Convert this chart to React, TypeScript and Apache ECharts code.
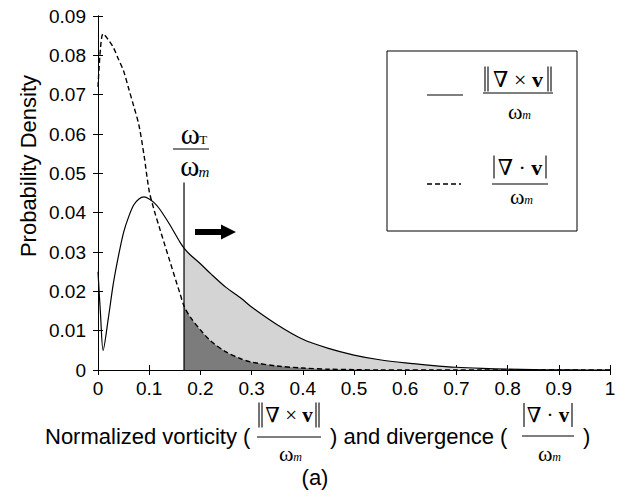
import React, { useEffect, useRef } from "react";
import * as echarts from "echarts";

// x positions (normalized value)
const xs = [0, 0.005, 0.01, 0.02, 0.03, 0.04, 0.05, 0.06, 0.07, 0.08, 0.09, 0.1, 0.11, 0.12, 0.14, 0.16, 0.168, 0.18, 0.2, 0.22, 0.25, 0.28, 0.3, 0.35, 0.4, 0.45, 0.5, 0.55, 0.6, 0.65, 0.7, 0.75, 0.8, 0.85, 0.9, 0.95, 1.0];
// solid curve: normalized vorticity
const vorticity = [0.025, 0.014, 0.005, 0.013, 0.022, 0.029, 0.035, 0.039, 0.042, 0.0435, 0.044, 0.0435, 0.0425, 0.041, 0.037, 0.0325, 0.031, 0.0293, 0.027, 0.0245, 0.021, 0.0182, 0.016, 0.0115, 0.0078, 0.0055, 0.0038, 0.0026, 0.0018, 0.0012, 0.0007, 0.0004, 0.0002, 0.0001, 0.00003, 0, 0];
// dashed curve: normalized divergence
const divergence = [0.072, 0.082, 0.0855, 0.084, 0.082, 0.079, 0.076, 0.0715, 0.067, 0.0622, 0.0545, 0.0455, 0.0405, 0.0362, 0.0278, 0.0195, 0.0163, 0.0135, 0.0102, 0.0074, 0.0046, 0.0028, 0.002, 0.001, 0.0005, 0.0002, 0.0001, 0, 0, 0, 0, 0, 0, 0, 0, 0, 0];
const threshold = 0.168;
const thresholdTop = 0.0477;

const SANS = "Liberation Sans, Arial, Helvetica, sans-serif";
const SERIF = "Liberation Serif, DejaVu Serif, Times New Roman, serif";

function txt(x: number, y: number, text: string, size: number, family: string, align: string, extra: any = {}): any {
  return {
    type: "text", x, y, z: 11,
    style: { text, fontSize: size, fontFamily: family, fill: "#000", align, verticalAlign: "middle", lineHeight: Math.round(size * 0.8), ...extra },
  };
}

// ω with a subscript; (cx, cy) is the centre of the whole group
function omegaSub(cx: number, cy: number, size: number, sub: string, italic: boolean, subSize: number): any[] {
  const wW = size * 0.6;
  const subW = subSize * 0.55;
  const left = cx - (wW + subW) / 2;
  return [
    txt(left, cy, "ω", size, SERIF, "left", { lineHeight: Math.round(size * 0.55) }),
    txt(left + wW + 1, cy + size * 0.2, sub, subSize, SERIF, "left", { fontStyle: italic ? "italic" : "normal", lineHeight: Math.round(subSize * 0.75) }),
  ];
}

function vbar(x: number, y1: number, y2: number): any {
  return { type: "line", z: 11, shape: { x1: x, y1, x2: x, y2 }, style: { stroke: "#000", lineWidth: 1.1 } };
}

function fraction(cx: number, yNum: number, yBar: number, yDen: number, op: string, halfW: number, numH: number, dbl: boolean, numSize: number, denSize: number, subSize: number): any[] {
  const els: any[] = [
    {
      type: "text", x: cx, y: yNum, z: 11,
      style: {
        text: `∇ ${op} {b|v}`, align: "center", verticalAlign: "middle",
        fontSize: numSize, fontFamily: SERIF, fill: "#000", lineHeight: Math.round(numSize * 0.8),
        rich: { b: { fontWeight: "bold", fontSize: numSize, fontFamily: SERIF, fill: "#000", lineHeight: Math.round(numSize * 0.8) } },
      },
    },
    { type: "line", z: 11, shape: { x1: cx - halfW, y1: yBar, x2: cx + halfW, y2: yBar }, style: { stroke: "#000", lineWidth: 1.2 } },
    ...omegaSub(cx, yDen, denSize, "m", true, subSize),
  ];
  const bw = halfW - 2;
  const y1 = yNum - numH / 2;
  const y2 = yNum + numH / 2;
  els.push(vbar(cx - bw, y1, y2), vbar(cx + bw, y1, y2));
  if (dbl) els.push(vbar(cx - bw + 3, y1, y2), vbar(cx + bw - 3, y1, y2));
  return els;
}

export default function App() {
  const ref = useRef<HTMLDivElement>(null);
  useEffect(() => {
    if (!ref.current) return;
    const chart = echarts.init(ref.current, null, { renderer: "svg" });
    const pairs = (ys: number[]) => xs.map((x, i) => [x, ys[i]]);
    const shaded = (ys: number[]) => xs.map((x, i) => [x, ys[i]]).filter((p) => p[0] >= threshold);
    const axisCommon = {
      type: "value" as const,
      axisLine: { show: true, lineStyle: { color: "#000", width: 1 } },
      axisTick: { show: true, inside: true, length: 5, lineStyle: { color: "#000" } },
      splitLine: { show: false },
    };
    const curvSmooth = 0.3;
    chart.setOption({
      animation: false,
      backgroundColor: "#fff",
      grid: { left: 98, right: 15, top: 16, bottom: 129, containLabel: false },
      xAxis: [
        { ...axisCommon, min: 0, max: 1, interval: 0.1, position: "bottom",
          axisLabel: { color: "#000", fontSize: 19, fontFamily: SANS, margin: 9 } },
        { ...axisCommon, min: 0, max: 1, interval: 0.1, position: "top", axisLabel: { show: false } },
      ],
      yAxis: [
        { ...axisCommon, min: 0, max: 0.09, interval: 0.01, position: "left",
          axisLabel: { color: "#000", fontSize: 19, fontFamily: SANS, margin: 12 } },
        { ...axisCommon, min: 0, max: 0.09, interval: 0.01, position: "right", axisLabel: { show: false } },
      ],
      series: [
        { type: "line", data: shaded(vorticity), smooth: curvSmooth, symbol: "none", lineStyle: { width: 0 }, areaStyle: { color: "#d4d4d4", opacity: 1 }, z: 1 },
        { type: "line", data: shaded(divergence), smooth: curvSmooth, symbol: "none", lineStyle: { width: 0 }, areaStyle: { color: "#7c7c7c", opacity: 1 }, z: 2 },
        { type: "line", data: pairs(vorticity), smooth: curvSmooth, symbol: "none", lineStyle: { color: "#000", width: 1.2 }, z: 3 },
        { type: "line", data: pairs(divergence), smooth: curvSmooth, symbol: "none", lineStyle: { color: "#000", width: 1.4, type: [5, 3] }, z: 3 },
        { type: "line", data: [[threshold, 0], [threshold, thresholdTop]], symbol: "none", lineStyle: { color: "#000", width: 1.2 }, z: 4 },
      ],
      graphic: [
        // y axis title
        { type: "text", x: 28, y: 166, rotation: Math.PI / 2,
          style: { text: "Probability Density", fontSize: 22, fontFamily: SANS, fill: "#000", align: "center", verticalAlign: "middle" } },
        // x axis title pieces
        txt(45, 436, "Normalized vorticity (", 22, SANS, "left"),
        ...fraction(289, 415, 437, 453, "×", 32, 25, true, 21, 22, 12),
        txt(330, 436, ") and divergence (", 22, SANS, "left"),
        ...fraction(548, 415, 436, 453, "·", 26, 24, false, 21, 22, 12),
        txt(583, 436, ")", 22, SANS, "left"),
        txt(315, 477, "(a)", 22, SANS, "center"),
        // threshold label
        ...omegaSub(193, 134, 29, "T", false, 13),
        { type: "line", shape: { x1: 173, y1: 149, x2: 209, y2: 149 }, style: { stroke: "#000", lineWidth: 1.2 } },
        ...omegaSub(193, 166, 29, "m", true, 15),
        // arrow
        { type: "polygon", shape: { points: [[195, 229], [221, 229], [221, 224.5], [236, 232], [221, 239.5], [221, 235], [195, 235]] }, style: { fill: "#000" } },
        // legend box
        { type: "rect", shape: { x: 387, y: 51, width: 190, height: 180 }, style: { fill: "#fff", stroke: "#000", lineWidth: 1 }, z: 10 },
        { type: "line", shape: { x1: 427, y1: 95, x2: 463, y2: 95 }, style: { stroke: "#000", lineWidth: 1.2 }, z: 11 },
        { type: "line", shape: { x1: 427, y1: 184, x2: 461, y2: 184 }, style: { stroke: "#000", lineWidth: 1.4, lineDash: [5, 3] }, z: 11 },
        ...fraction(518, 79, 93, 111, "×", 35, 25, true, 22, 22, 12),
        ...fraction(520, 167, 184, 196, "·", 28, 23, false, 22, 22, 12),
      ],
    });
    return () => chart.dispose();
  }, []);
  return <div ref={ref} style={{ width: 625, height: 499, position: "absolute", left: 0, top: 0 }} />;
}
